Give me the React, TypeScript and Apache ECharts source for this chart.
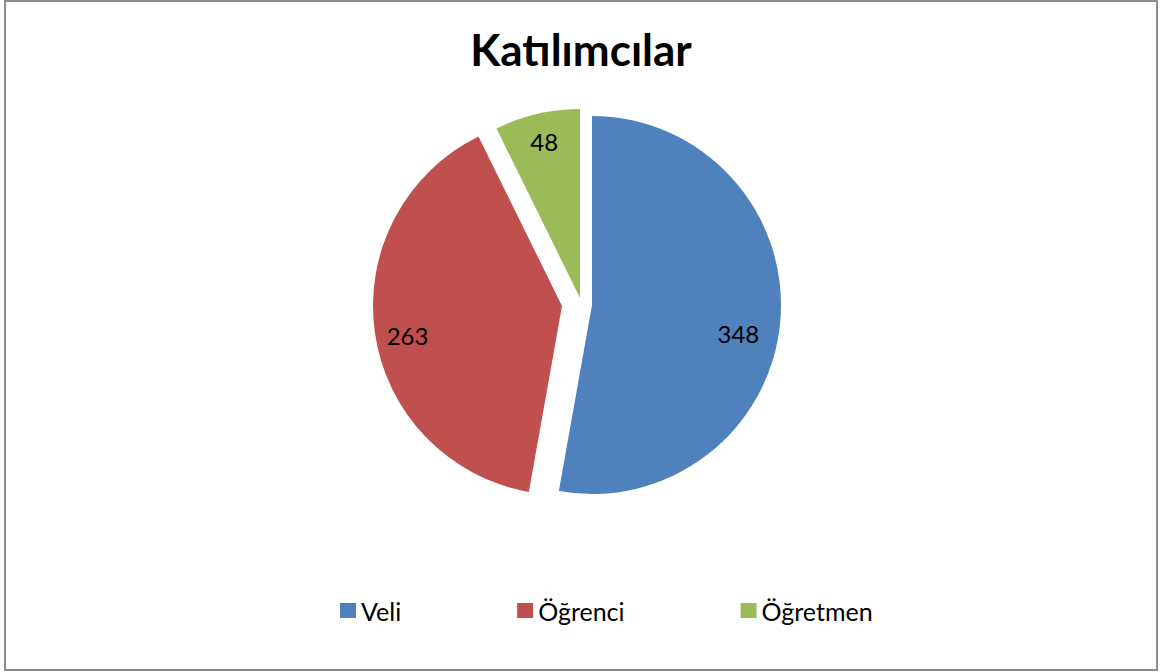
import React, { useEffect, useRef } from "react";
import * as echarts from "echarts";

const categories = ["Veli", "Öğrenci", "Öğretmen"];
const values = [348, 263, 48];
const colors = ["#4f81bd", "#c0504d", "#9bbb59"];
const titleText = "Katılımcılar";

const FONT = "Lato, 'Noto Sans', sans-serif";
const RADIUS = 189;
// each exploded slice has its own centre
const centers: [number, number][] = [
  [592, 305],
  [562, 306],
  [580, 298],
];
// small "best fit" nudges of the data labels
const labelNudges: [number, number][] = [
  [-11, 15],
  [2, 7],
  [0, -3],
];

export default function App() {
  const ref = useRef<HTMLDivElement>(null);
  useEffect(() => {
    document.body.style.margin = "0";
    const chart = echarts.init(ref.current!, null, { renderer: "svg" });
    const sliceSeries = categories.map((_, i) => ({
      type: "pie",
      name: "slice" + i,
      center: centers[i],
      radius: [0, RADIUS],
      startAngle: 90,
      clockwise: true,
      silent: true,
      avoidLabelOverlap: false,
      label: { show: false },
      labelLine: { show: false },
      emphasis: { disabled: true },
      itemStyle: { borderWidth: 0 },
      data: categories.map((n, j) => ({
        name: n,
        value: values[j],
        itemStyle: { color: j === i ? colors[i] : "rgba(0,0,0,0)", borderWidth: 0 },
      })),
    }));
    const labelSeries = categories.map((_, i) => ({
      type: "pie",
      name: "label" + i,
      center: centers[i],
      radius: [121, RADIUS],
      startAngle: 90,
      clockwise: true,
      silent: true,
      avoidLabelOverlap: false,
      labelLine: { show: false },
      emphasis: { disabled: true },
      itemStyle: { borderWidth: 0, color: "rgba(0,0,0,0)" },
      label: {
        position: "inside",
        formatter: "{c}",
        color: "#000",
        fontSize: 24,
        fontFamily: FONT,
      },
      data: categories.map((n, j) => ({
        name: n,
        value: values[j],
        itemStyle: { color: "rgba(0,0,0,0)", borderWidth: 0 },
        label: { show: j === i, offset: labelNudges[j] },
      })),
    }));
    chart.setOption({
      animation: false,
      backgroundColor: "#ffffff",
      title: {
        text: titleText,
        left: "center",
        top: 22,
        textStyle: { fontSize: 44, fontWeight: "bold", fontFamily: FONT, color: "#000" },
      },
      legend: {
        left: 335,
        top: 593,
        itemWidth: 16,
        itemHeight: 15,
        itemGap: 116,
        selectedMode: false,
        icon: "rect",
        textStyle: { fontSize: 25, fontFamily: FONT, color: "#000" },
        data: categories.map((n, i) => ({
          name: n,
          itemStyle: { color: colors[i], opacity: 1, borderWidth: 0 },
        })),
      },
      graphic: [
        {
          type: "rect",
          silent: true,
          shape: { x: 5, y: 1, width: 1152, height: 669 },
          style: { fill: "none", stroke: "#8c8c8c", lineWidth: 2 },
          z: 100,
        },
      ],
      series: [...sliceSeries, ...labelSeries],
    });
    return () => chart.dispose();
  }, []);
  return <div ref={ref} style={{ width: 1162, height: 672 }} />;
}
